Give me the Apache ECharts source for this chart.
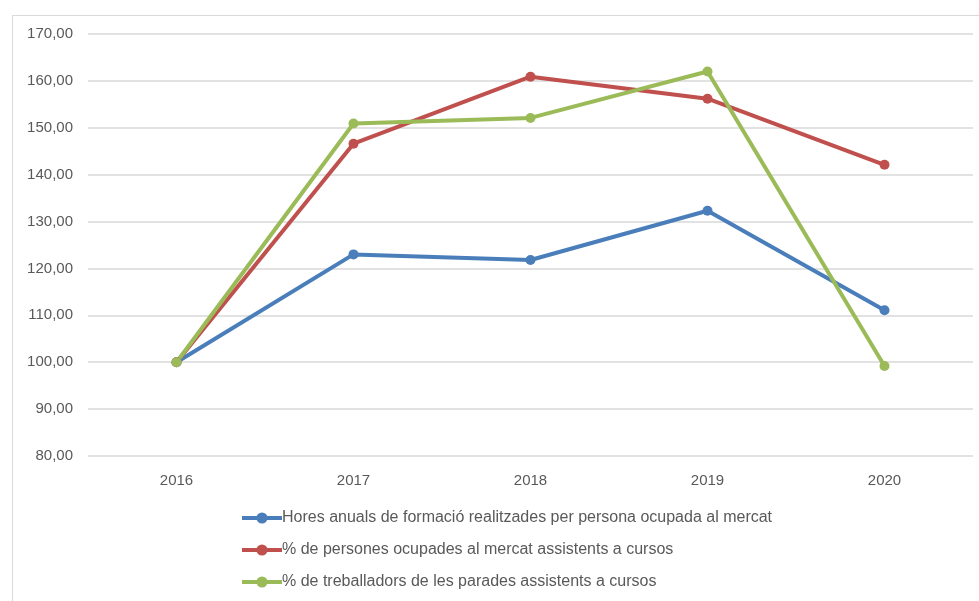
<!DOCTYPE html>
<html>
<head>
<meta charset="utf-8">
<script src="https://cdn.jsdelivr.net/npm/echarts@6/dist/echarts.min.js"></script>
<style>html,body{margin:0;padding:0;background:#fff}#c{width:979px;height:601px}</style>
</head>
<body>
<div id="c"></div>
<script>
const years = ['2016', '2017', '2018', '2019', '2020'];
const hores = [100, 123.0, 121.8, 132.3, 111.1];
const persones = [100, 146.6, 160.9, 156.2, 142.1];
const treballadors = [100, 150.9, 152.1, 162.0, 99.2];
const names = [
  'Hores anuals de formació realitzades per persona ocupada al mercat',
  '% de persones ocupades al mercat assistents a cursos',
  '% de treballadors de les parades assistents a cursos'
];
const colors = ['#4a7ebb', '#c0504d', '#9bbb59'];

const chart = echarts.init(document.getElementById('c'));
const mk = (name, data, color) => ({
  name, type: 'line', data,
  symbol: 'circle', symbolSize: 10,
  lineStyle: { width: 4, color },
  itemStyle: { color },
  emphasis: { disabled: true },
  animation: false
});
chart.setOption({
  animation: false,
  color: colors,
  graphic: [{
    type: 'rect', left: 10, top: 13, silent: true,
    shape: { width: 975, height: 600 },
    style: { fill: 'none', stroke: '#d9d9d9', lineWidth: 1 }
  }],
  grid: { left: 88, right: 6, top: 34, bottom: 145 },
  xAxis: {
    type: 'category', data: years, boundaryGap: true,
    axisLine: { show: false }, axisTick: { show: false },
    axisLabel: { color: '#595959', fontSize: 15, fontFamily: 'Liberation Sans, Arial', margin: 17 }
  },
  yAxis: {
    type: 'value', min: 80, max: 170, interval: 10,
    axisLine: { show: false }, axisTick: { show: false },
    splitLine: { lineStyle: { color: '#d9d9d9', width: 1.5 } },
    axisLabel: {
      color: '#595959', fontSize: 15, fontFamily: 'Liberation Sans, Arial', margin: 15,
      formatter: v => v.toFixed(2).replace('.', ',')
    }
  },
  legend: {
    orient: 'vertical', left: 240, top: 510, padding: 0,
    itemWidth: 40, itemHeight: 14, itemGap: 16,
    lineStyle: { width: 4 },
    textStyle: { color: '#595959', fontSize: 16, fontFamily: 'Liberation Sans, Arial', padding: [0, 0, 0, -5] },
    data: names
  },
  series: [
    mk(names[0], hores, colors[0]),
    mk(names[1], persones, colors[1]),
    mk(names[2], treballadors, colors[2])
  ]
});
</script>
</body>
</html>
